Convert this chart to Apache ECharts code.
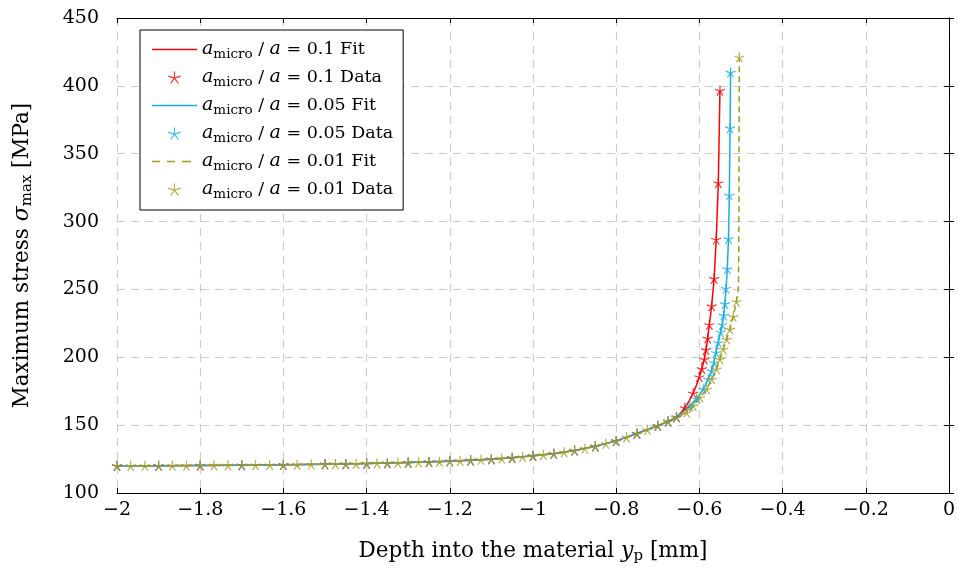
<!DOCTYPE html>
<html>
<head>
<meta charset="utf-8">
<script src="https://cdn.jsdelivr.net/npm/echarts@6/dist/echarts.min.js"></script>
<style>
  html, body { margin: 0; padding: 0; background: #fff; }
  #chart { width: 958px; height: 569px; }
</style>
</head>
<body>
<div id="chart"></div>
<script>
// Maximum stress versus depth, three micro-crack ratios (fit curves and sampled data)
const xTicks = [-2, -1.8, -1.6, -1.4, -1.2, -1, -0.8, -0.6, -0.4, -0.2, 0];
const yTicks = [100, 150, 200, 250, 300, 350, 400, 450];

const seriesNames = [
  'a01fit', 'a01data', 'a005fit', 'a005data', 'a001fit', 'a001data'
];
const legendLabels = {
  a01fit: '0.1 Fit', a01data: '0.1 Data',
  a005fit: '0.05 Fit', a005data: '0.05 Data',
  a001fit: '0.01 Fit', a001data: '0.01 Data'
};

// a_micro / a = 0.1
const redFit = [
  [-2.0, 120.0], [-1.9, 120.1], [-1.8, 120.3], [-1.7, 120.5], [-1.6, 120.8], [-1.5, 121.2],
  [-1.4, 121.7], [-1.3, 122.4], [-1.2, 123.4], [-1.1, 124.9], [-1.05, 125.9], [-1.0, 127.4],
  [-0.95, 128.9], [-0.9, 131.3], [-0.85, 134.4], [-0.8, 138.4], [-0.75, 143.8], [-0.7, 149.6],
  [-0.675, 152.8], [-0.655, 156.0], [-0.645, 159.0], [-0.635, 162.8], [-0.625, 167.5],
  [-0.615, 173.5], [-0.607, 179.5], [-0.600, 185.5], [-0.594, 191.5], [-0.588, 198.5],
  [-0.584, 205.5], [-0.580, 214.0], [-0.576, 224.0], [-0.5705, 237.7], [-0.5645, 258.0],
  [-0.5595, 286.8], [-0.5545, 328.5], [-0.5505, 396.5]
];
const redData = [
  [-2.0, 120.0], [-1.9, 120.1], [-1.8, 120.3], [-1.7, 120.5], [-1.6, 120.8], [-1.5, 121.2],
  [-1.45, 121.4], [-1.4, 121.7], [-1.35, 122.0], [-1.3, 122.4], [-1.25, 122.9], [-1.2, 123.4],
  [-1.15, 124.1], [-1.1, 124.9], [-1.05, 125.9], [-1.0, 127.4], [-0.95, 128.9], [-0.9, 131.3],
  [-0.85, 134.4], [-0.8, 138.4], [-0.75, 143.8], [-0.7, 149.6], [-0.675, 152.8], [-0.655, 156.0],
  [-0.635, 162.8], [-0.615, 173.5], [-0.600, 185.5], [-0.594, 191.5], [-0.588, 198.5],
  [-0.584, 205.5], [-0.580, 214.0], [-0.576, 224.0], [-0.5705, 237.7], [-0.5645, 258.0],
  [-0.5595, 286.8], [-0.5545, 328.5], [-0.5505, 396.5]
];

// a_micro / a = 0.05
const blueFit = [
  [-2.0, 120.0], [-1.9, 120.1], [-1.8, 120.3], [-1.7, 120.5], [-1.6, 120.8], [-1.5, 121.2],
  [-1.4, 121.7], [-1.3, 122.4], [-1.2, 123.4], [-1.1, 124.9], [-1.05, 125.9], [-1.0, 127.4],
  [-0.95, 128.9], [-0.9, 131.3], [-0.85, 134.4], [-0.8, 138.4], [-0.75, 143.8], [-0.7, 149.6],
  [-0.675, 152.8], [-0.655, 155.8], [-0.640, 159.5], [-0.6226, 164.2], [-0.6065, 169.5],
  [-0.5906, 176.5], [-0.5786, 183.8], [-0.5704, 190.0], [-0.5649, 196.0], [-0.5600, 203.4],
  [-0.5546, 210.8], [-0.5488, 218.5], [-0.5450, 224.0], [-0.5415, 230.9], [-0.5385, 239.4],
  [-0.5358, 250.7], [-0.5328, 265.2], [-0.5300, 287.3], [-0.5280, 319.4], [-0.5262, 368.9],
  [-0.5250, 410.0]
];
const blueData = [
  [-2.0, 120.0], [-1.9, 120.1], [-1.8, 120.3], [-1.7, 120.5], [-1.6, 120.8], [-1.5, 121.2],
  [-1.45, 121.4], [-1.4, 121.7], [-1.35, 122.0], [-1.3, 122.4], [-1.25, 122.9], [-1.2, 123.4],
  [-1.15, 124.1], [-1.1, 124.9], [-1.05, 125.9], [-1.0, 127.4], [-0.95, 128.9], [-0.9, 131.3],
  [-0.85, 134.4], [-0.8, 138.4], [-0.75, 143.8], [-0.7, 149.6], [-0.675, 152.8], [-0.655, 155.8],
  [-0.6226, 164.2], [-0.6065, 169.5], [-0.5906, 176.5], [-0.5786, 183.8], [-0.5704, 190.0],
  [-0.5649, 196.0], [-0.5600, 203.4], [-0.5546, 210.8], [-0.5488, 218.5], [-0.5450, 224.0],
  [-0.5415, 230.9], [-0.5385, 239.4], [-0.5358, 250.7], [-0.5328, 265.2], [-0.5300, 287.3],
  [-0.5280, 319.4], [-0.5262, 368.9], [-0.5250, 410.0]
];

// a_micro / a = 0.01
const oliveFit = [
  [-2.0, 120.0], [-1.9, 120.1], [-1.8, 120.3], [-1.7, 120.5], [-1.6, 120.8], [-1.5, 121.2],
  [-1.4, 121.7], [-1.3, 122.4], [-1.2, 123.4], [-1.1, 124.9], [-1.05, 125.9], [-1.0, 127.4],
  [-0.95, 128.9], [-0.9, 131.3], [-0.85, 134.4], [-0.8, 138.4], [-0.75, 143.8], [-0.7, 149.6],
  [-0.675, 152.8], [-0.655, 155.7], [-0.6305, 159.3], [-0.6147, 164.2], [-0.5986, 170.4],
  [-0.5824, 176.5], [-0.5704, 183.8], [-0.5584, 191.2], [-0.5505, 198.5], [-0.5425, 205.9],
  [-0.5344, 213.2], [-0.5264, 220.6], [-0.5185, 230.0], [-0.5110, 241.0], [-0.5075, 247.0],
  [-0.5058, 255.0], [-0.5052, 290.0], [-0.5046, 350.0], [-0.5040, 421.1]
];
const oliveData = [
  [-2.0, 120.0], [-1.967, 120.0], [-1.933, 120.1], [-1.9, 120.1], [-1.867, 120.2], [-1.833, 120.2],
  [-1.8, 120.3], [-1.767, 120.4], [-1.733, 120.4], [-1.7, 120.5], [-1.667, 120.6], [-1.633, 120.7],
  [-1.6, 120.8], [-1.567, 120.9], [-1.533, 121.0], [-1.5, 121.2], [-1.475, 121.3], [-1.45, 121.4],
  [-1.425, 121.5], [-1.4, 121.7], [-1.375, 121.8], [-1.35, 122.0], [-1.325, 122.2], [-1.3, 122.4],
  [-1.275, 122.6], [-1.25, 122.9], [-1.225, 123.1], [-1.2, 123.4], [-1.175, 123.7], [-1.15, 124.1],
  [-1.125, 124.5], [-1.1, 124.9], [-1.075, 125.4], [-1.05, 125.9], [-1.025, 126.6], [-1.0, 127.4],
  [-0.975, 128.1], [-0.95, 128.9], [-0.925, 130.0], [-0.9, 131.3], [-0.875, 132.8], [-0.85, 134.4],
  [-0.825, 136.3], [-0.8, 138.4], [-0.775, 141.0], [-0.75, 143.8], [-0.725, 146.6], [-0.7, 149.6],
  [-0.675, 152.8], [-0.655, 155.7], [-0.6305, 159.3], [-0.6147, 164.2], [-0.5986, 170.4],
  [-0.5824, 176.5], [-0.5704, 183.8], [-0.5584, 191.2], [-0.5505, 198.5], [-0.5425, 205.9],
  [-0.5344, 213.2], [-0.5264, 220.6], [-0.5185, 230.0], [-0.5110, 241.0], [-0.5040, 421.1]
];

const RED = '#ff0000';
const BLUE = '#17aee6';
const OLIVE = '#a09c1c';
const FONT = 'DejaVu Serif';

// five-armed asterisk marker, drawn as strokes only
const STAR = 'path://M0,0L0,-10M0,0L9.51,-3.09M0,0L5.88,8.09M0,0L-5.88,8.09M0,0L-9.51,-3.09';
// legend keys for the fit curves: a solid bar and a dashed bar
const LINE_ICON = 'path://M0,0H45V1.6H0Z';
const DASH_ICON = 'path://M0,0H8V1.6H0ZM15,0H23V1.6H15ZM30,0H39V1.6H30ZM45,0L45,1.6';

const fmtX = v => {
  const r = Math.round(v * 10) / 10;
  return r < 0 ? '\u2212' + String(Math.abs(r)) : String(r);
};

const richMath = {
  i: { fontFamily: FONT, fontStyle: 'italic', fontSize: 22, color: '#000' },
  s: { fontFamily: FONT, fontSize: 15, color: '#000', padding: [10, 0, 0, 0] },
  n: { fontFamily: FONT, fontSize: 21.5, color: '#000' }
};
const richLegend = {
  i: { fontFamily: FONT, fontStyle: 'italic', fontSize: 19, color: '#000' },
  s: { fontFamily: FONT, fontSize: 13.5, color: '#000', padding: [9, 0, 0, 0] },
  n: { fontFamily: FONT, fontSize: 17.5, color: '#000' }
};

function fitSeries(name, data, color, dashed) {
  return {
    name, type: 'line', data, showSymbol: false, symbol: 'none', smooth: false,
    lineStyle: { color, width: 1.5, type: dashed ? [6, 4] : 'solid' },
    itemStyle: { color }, z: 3, animation: false
  };
}
function dataSeries(name, data, color) {
  return {
    name, type: 'scatter', data, symbol: STAR, symbolSize: 10,
    itemStyle: { color, borderColor: color, borderWidth: 1.2 },
    z: 4, animation: false
  };
}

const chart = echarts.init(document.getElementById('chart'), null, { renderer: 'canvas' });
chart.setOption({
  backgroundColor: '#fff',
  animation: false,
  grid: { left: 117, right: 9, top: 18, bottom: 75, containLabel: false },
  legend: {
    data: [
      { name: 'a01fit', icon: LINE_ICON, itemStyle: { borderWidth: 0 } },
      { name: 'a01data', itemStyle: { borderWidth: 1.2 } },
      { name: 'a005fit', icon: LINE_ICON, itemStyle: { borderWidth: 0 } },
      { name: 'a005data', itemStyle: { borderWidth: 1.2 } },
      { name: 'a001fit', icon: DASH_ICON, itemStyle: { borderWidth: 0 } },
      { name: 'a001data', itemStyle: { borderWidth: 1.2 } }
    ],
    orient: 'vertical',
    left: 140, top: 30,
    padding: [10, 10, 9, 12],
    itemGap: 7,
    itemWidth: 45, itemHeight: 12,
    backgroundColor: '#fff',
    borderColor: '#000', borderWidth: 1,
    formatter: name => '{i|a}{s|micro}{n| / }{i|a}{n| = ' + legendLabels[name] + '}',
    textStyle: { fontFamily: FONT, fontSize: 17.5, color: '#000', rich: richLegend }
  },
  xAxis: [{
    type: 'value', min: -2, max: 0, interval: 0.2,
    name: 'Depth into the material {i|y}{s|p} [mm]',
    nameLocation: 'middle', nameGap: 46,
    nameTextStyle: { fontFamily: FONT, fontSize: 21.5, color: '#000', rich: richMath },
    axisLine: { show: true, lineStyle: { color: '#000', width: 1 } },
    axisTick: { show: true, inside: true, length: 5, lineStyle: { color: '#000' } },
    axisLabel: { formatter: fmtX, fontFamily: FONT, fontSize: 19, color: '#000', margin: 8 },
    splitLine: { show: true, lineStyle: { color: '#cccccc', width: 1.2, type: [8, 6] } }
  }, {
    type: 'value', min: -2, max: 0, interval: 0.2, position: 'top',
    axisLine: { show: true, onZero: false, lineStyle: { color: '#000', width: 1 } },
    axisTick: { show: true, inside: true, length: 5, lineStyle: { color: '#000' } },
    axisLabel: { show: false }, splitLine: { show: false }
  }],
  yAxis: [{
    type: 'value', min: 100, max: 450, interval: 50,
    name: 'Maximum stress {i|σ}{s|max} [MPa]',
    nameLocation: 'middle', nameGap: 82,
    nameTextStyle: { fontFamily: FONT, fontSize: 21.5, color: '#000', rich: richMath },
    axisLine: { show: true, lineStyle: { color: '#000', width: 1 } },
    axisTick: { show: true, inside: true, length: 5, lineStyle: { color: '#000' } },
    axisLabel: { fontFamily: FONT, fontSize: 19, color: '#000', margin: 18 },
    splitLine: { show: true, lineStyle: { color: '#cccccc', width: 1.2, type: [8, 6] } }
  }, {
    type: 'value', min: 100, max: 450, interval: 50, position: 'right',
    axisLine: { show: true, onZero: false, lineStyle: { color: '#000', width: 1 } },
    axisTick: { show: true, inside: true, length: 5, lineStyle: { color: '#000' } },
    axisLabel: { show: false }, splitLine: { show: false }
  }],
  series: [
    fitSeries('a01fit', redFit, RED, false),
    dataSeries('a01data', redData, RED),
    fitSeries('a005fit', blueFit, BLUE, false),
    dataSeries('a005data', blueData, BLUE),
    fitSeries('a001fit', oliveFit, OLIVE, true),
    dataSeries('a001data', oliveData, OLIVE)
  ]
});
</script>
</body>
</html>
